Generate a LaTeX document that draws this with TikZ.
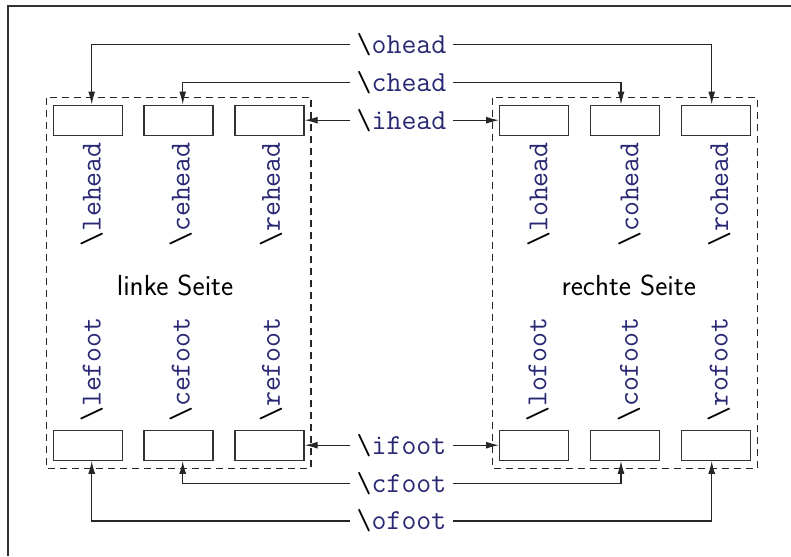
\documentclass[tikz,border=0pt]{standalone}
\usetikzlibrary{arrows.meta}
\definecolor{kblue}{RGB}{40,40,115}
\newcommand\kcmd[1]{\textcolor{black}{\textbackslash}\textcolor{kblue}{#1}}
\begin{document}
\begin{tikzpicture}[x=1pt,y=-1pt,
  slot/.style={draw=black!80, line width=1.3pt, minimum width=69pt, minimum height=30pt, inner sep=0pt},
  cmdtext/.style={font=\fontsize{29}{34}\selectfont\ttfamily, inner xsep=6.5pt, inner ysep=2pt},
  rottext/.style={font=\fontsize{29}{34}\selectfont\ttfamily, rotate=90, inner sep=0pt},
  sidetext/.style={font=\fontsize{29}{34}\selectfont\sffamily},
  pagebox/.style={draw=black!85, dash pattern=on 7pt off 5pt, line width=1.2pt},
  arr/.style={-{Latex[length=13pt,width=7pt]}, line width=1.2pt, draw=black!85}
]
\useasboundingbox (0,0) rectangle (791,556);
\draw[line width=1.4pt, black!80] (8,556) -- (8,6) -- (791,6);

% page frames
\draw[pagebox] (46.7,97.7) rectangle (311,468.3);
\draw[pagebox] (492.7,97.7) rectangle (757.3,468.3);

% header slots
\node[slot] (LH1) at (87.8,120.2) {};
\node[slot] (LH2) at (178.5,120.2) {};
\node[slot] (LH3) at (269.5,120.2) {};
\node[slot] (RH1) at (534.2,120.2) {};
\node[slot] (RH2) at (624.8,120.2) {};
\node[slot] (RH3) at (715.7,120.2) {};
% footer slots
\node[slot] (LF1) at (87.8,445.2) {};
\node[slot] (LF2) at (178.5,445.2) {};
\node[slot] (LF3) at (269.5,445.2) {};
\node[slot] (RF1) at (534.2,445.2) {};
\node[slot] (RF2) at (624.8,445.2) {};
\node[slot] (RF3) at (715.7,445.2) {};

% rotated labels
\node[rottext, anchor=east] (lLH1) at (91.8,142) {\kcmd{lehead}};
\node[rottext, anchor=east] (lLH2) at (180.8,142) {\kcmd{cehead}};
\node[rottext, anchor=east] (lLH3) at (271.1,142) {\kcmd{rehead}};
\node[rottext, anchor=east] (lRH1) at (538.4,142) {\kcmd{lohead}};
\node[rottext, anchor=east] (lRH2) at (629.5,142) {\kcmd{cohead}};
\node[rottext, anchor=east] (lRH3) at (719.2,142) {\kcmd{rohead}};
\node[rottext, anchor=west] (lLF1) at (91.8,422) {\kcmd{lefoot}};
\node[rottext, anchor=west] (lLF2) at (180.8,422) {\kcmd{cefoot}};
\node[rottext, anchor=west] (lLF3) at (271.1,422) {\kcmd{refoot}};
\node[rottext, anchor=west] (lRF1) at (537.5,422) {\kcmd{lofoot}};
\node[rottext, anchor=west] (lRF2) at (629.0,422) {\kcmd{cofoot}};
\node[rottext, anchor=west] (lRF3) at (718.8,422) {\kcmd{rofoot}};

% page names
\node[sidetext] (lpage) at (175,285) {linke Seite};
\node[sidetext] (rpage) at (628.7,285) {rechte Seite};

% command texts
\node[cmdtext] (oh) at (401.5,44.3) {\kcmd{ohead}};
\node[cmdtext] (ch) at (401.5,82.3) {\kcmd{chead}};
\node[cmdtext] (ih) at (401.5,120.2) {\kcmd{ihead}};
\node[cmdtext] (if) at (401.5,445.2) {\kcmd{ifoot}};
\node[cmdtext] (cf) at (401.5,483.3) {\kcmd{cfoot}};
\node[cmdtext] (of) at (401.5,521) {\kcmd{ofoot}};

% connectors
\draw[arr] (oh.west) -| ([xshift=3.9pt]LH1.north);
\draw[arr] (oh.east) -| ([xshift=-4pt]RH3.north);
\draw[arr] (ch.west) -| ([xshift=4.2pt]LH2.north);
\draw[arr] (ch.east) -| ([xshift=-3.8pt]RH2.north);
\draw[arr] (ih.west) -- (ih.west -| LH3.east);
\draw[arr] (ih.east) -- (ih.east -| RH1.west);
\draw[arr] (if.west) -- (if.west -| LF3.east);
\draw[arr] (if.east) -- (if.east -| RF1.west);
\draw[arr] (cf.west) -| ([xshift=4.2pt]LF2.south);
\draw[arr] (cf.east) -| ([xshift=-3.8pt]RF2.south);
\draw[arr] (of.west) -| ([xshift=3.9pt]LF1.south);
\draw[arr] (of.east) -| ([xshift=-4pt]RF3.south);
\end{tikzpicture}
\end{document}
